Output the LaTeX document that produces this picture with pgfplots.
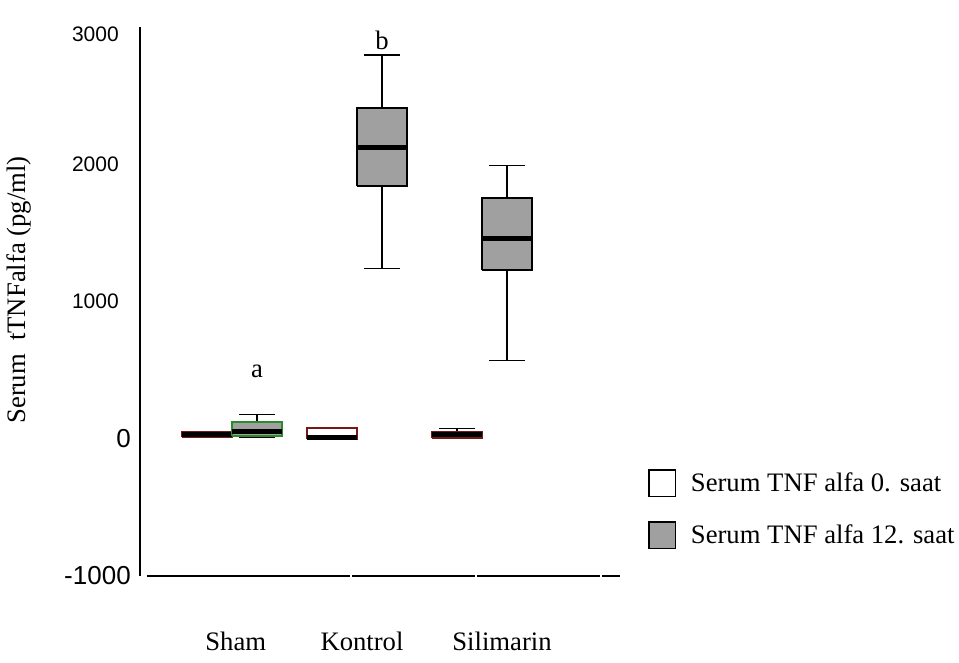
\documentclass[border=0pt]{standalone}
\usepackage{fontspec}
\setmainfont{Liberation Serif}
\newfontfamily\arialf{Liberation Sans}
\usepackage{pgfplots}
\pgfplotsset{compat=1.18}
\definecolor{boxgray}{RGB}{160,160,160}
\definecolor{dred}{RGB}{120,25,25}
\definecolor{dgreen}{RGB}{40,140,40}
\pgfplotsset{
  whisk/.style={forget plot, black, line width=1.1pt},
  med/.style={forget plot, black, line width=3.75pt},
  bx/.style={forget plot, line width=1.5pt, line join=miter},
}
\begin{document}
\begin{tikzpicture}
\begin{axis}[
  at={(0pt,0pt)}, anchor=south west,
  scale only axis, width=360pt, height=411.75pt,
  xmin=0.264, xmax=4.104, ymin=-1000, ymax=3000,
  axis x line*=bottom, axis y line*=left,
  axis line style={line width=1.3pt},
  x axis line style={shorten <=5.25pt},
  ytick={-1000,0,1000,2000,3000},
  yticklabels={{\fontsize{19.5}{22}\selectfont -1000},{\fontsize{19.5}{22}\selectfont 0},{1000\hspace*{9pt}},{2000\hspace*{9pt}},{\raisebox{-5pt}[\height][0pt]{3000}\hspace*{9pt}}},
  yticklabel style={font=\arialf\fontsize{15.75}{18}\selectfont, anchor=east, inner sep=0pt, xshift=-6.75pt},
  xtick={1.03,2.04,3.16},
  xticklabels={Sham,Kontrol,Silimarin},
  xticklabel style={font=\fontsize{20}{24}\selectfont, anchor=center, yshift=-48.75pt},
  tick style={draw=none},
  extra x ticks={1.952,2.952,3.952},
  extra x tick labels={},
  extra x tick style={major tick length=6pt, tick align=center, tick style={draw=white, line width=2.2pt}},
  ylabel={Serum~ tTNFalfa (pg/ml)},
  ylabel style={font=\fontsize{20}{24}\selectfont, at={(axis description cs:-0.2514,0.521)}, anchor=center},
  legend style={at={(1.0583,0.195)}, anchor=north west, draw=none, fill=none,
    font=\fontsize{20}{24}\selectfont, row sep=18pt, inner sep=0pt,
    /tikz/every odd column/.append style={column sep=9pt}},
  legend cell align=left,
  clip=false,
]
% ---- Sham 0. saat (q1 10, median 30, q3 50)
\addplot[bx, draw=dred, fill=white] coordinates {(0.6,10) (1.0,10) (1.0,50) (0.6,50) (0.6,10)};
\addplot[med] coordinates {(0.6,30) (1.0,30)};
% ---- Sham 12. saat (10, 20, 55, 125, 175)
\addplot[whisk] coordinates {(1.2,125) (1.2,175)};
\addplot[whisk] coordinates {(1.056,175) (1.344,175)};
\addplot[whisk] coordinates {(1.2,20) (1.2,10)};
\addplot[whisk] coordinates {(1.056,10) (1.344,10)};
\addplot[bx, draw=dgreen, fill=boxgray] coordinates {(1.0,20) (1.4,20) (1.4,125) (1.0,125) (1.0,20)};
\addplot[med] coordinates {(1.0,55) (1.4,55)};
% ---- Kontrol 0. saat (q1 0, median 12, q3 78)
\addplot[bx, draw=dred, fill=white] coordinates {(1.6,0) (2.0,0) (2.0,78) (1.6,78) (1.6,0)};
\addplot[med] coordinates {(1.6,12) (2.0,12)};
% ---- Kontrol 12. saat (1240, 1843, 2122, 2413, 2797)
\addplot[whisk] coordinates {(2.2,2413) (2.2,2797)};
\addplot[whisk] coordinates {(2.056,2797) (2.344,2797)};
\addplot[whisk] coordinates {(2.2,1843) (2.2,1240)};
\addplot[whisk] coordinates {(2.056,1240) (2.344,1240)};
\addplot[bx, draw=black, fill=boxgray] coordinates {(2.0,1843) (2.4,1843) (2.4,2413) (2.0,2413) (2.0,1843)};
\addplot[med] coordinates {(2.0,2122) (2.4,2122)};
% ---- Silimarin 0. saat (5, 5, 28, 50, 73)
\addplot[whisk] coordinates {(2.8,50) (2.8,73)};
\addplot[whisk] coordinates {(2.656,73) (2.944,73)};
\addplot[bx, draw=dred, fill=white] coordinates {(2.6,5) (3.0,5) (3.0,50) (2.6,50) (2.6,5)};
\addplot[med] coordinates {(2.6,28) (3.0,28)};
% ---- Silimarin 12. saat (570, 1226, 1462, 1753, 1991)
\addplot[whisk] coordinates {(3.2,1753) (3.2,1991)};
\addplot[whisk] coordinates {(3.056,1991) (3.344,1991)};
\addplot[whisk] coordinates {(3.2,1226) (3.2,570)};
\addplot[whisk] coordinates {(3.056,570) (3.344,570)};
\addplot[bx, draw=black, fill=boxgray] coordinates {(3.0,1226) (3.4,1226) (3.4,1753) (3.0,1753) (3.0,1226)};
\addplot[med] coordinates {(3.0,1462) (3.4,1462)};
% ---- legend
\addlegendimage{legend image code/.code={\draw[draw=black, fill=white, line width=1pt] (0pt,-10pt) rectangle (20pt,10pt);}}
\addlegendentry{Serum TNF alfa 0. saat}
\addlegendimage{legend image code/.code={\draw[draw=black, fill=boxgray, line width=1pt] (0pt,-10pt) rectangle (20pt,10pt);}}
\addlegendentry{Serum TNF alfa 12. saat}
\node[font=\fontsize{20}{24}\selectfont] at (axis cs:1.2,488) {a};
\node[font=\fontsize{20}{24}\selectfont] at (axis cs:2.2,2906) {b};
\end{axis}
\path (-105pt,-64.5pt) rectangle (614.25pt,432pt);
\end{tikzpicture}
\end{document}
